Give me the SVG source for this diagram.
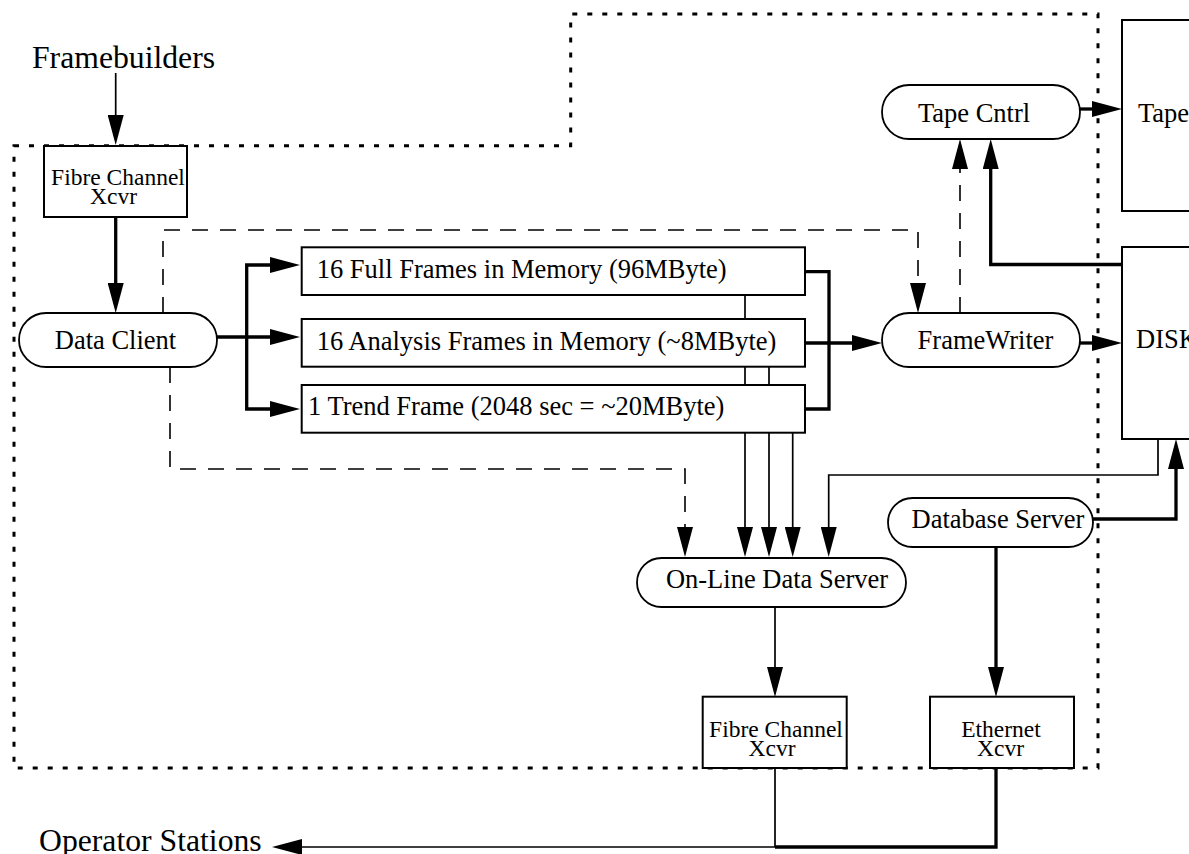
<svg xmlns="http://www.w3.org/2000/svg" width="1189" height="854" viewBox="0 0 1189 854">
  <style>
    text { font-family: "Liberation Serif", "Times New Roman", serif; fill: #000; }
    .lbl { font-size: 26.5px; }
    .big { font-size: 31.7px; }
    .sm { font-size: 23.5px; }
    .box { fill: #fff; stroke: #000; stroke-width: 2; }
    .pill { fill: #fff; stroke: #000; stroke-width: 1.8; }
    .thin { fill: none; stroke: #000; stroke-width: 1.7; }
    .thick { fill: none; stroke: #000; stroke-width: 3.3; }
    .dash { fill: none; stroke: #000; stroke-width: 1.6; stroke-dasharray: 16 12; }
    .zone { fill: none; stroke: #000; stroke-width: 3; stroke-dasharray: 5 10; }
  </style>
  <defs>
    <marker id="arrow" markerUnits="userSpaceOnUse" viewBox="0 0 30 16" markerWidth="30" markerHeight="16" refX="20" refY="8" orient="auto-start-reverse">
      <path d="M0,0 L30,8 L0,16 z" fill="#000"/>
    </marker>
  </defs>

  <rect width="1189" height="854" fill="#fff"/>

  <!-- system boundary -->
  <polygon class="zone" points="14,145.7 570.7,145.7 570.7,14 1098,14 1098,768 14,768"/>

  <!-- external labels -->
  <text id="framebuilders" class="big" x="32" y="68">Framebuilders</text>
  <text id="operator-stations" class="big" x="39" y="851">Operator Stations</text>

  <!-- storage devices -->
  <g id="tape">
    <rect class="box" x="1122" y="20" width="100" height="191"/>
    <text class="lbl" x="1138" y="122">Tape</text>
  </g>
  <g id="disk">
    <rect class="box" x="1122" y="247" width="100" height="192"/>
    <text class="lbl" x="1136" y="348">DISK</text>
  </g>

  <!-- transceivers -->
  <g id="fc-xcvr-in">
    <rect class="box" x="44" y="146" width="143" height="71"/>
    <text class="sm" x="118" y="185" text-anchor="middle">Fibre Channel</text>
    <text class="sm" x="113.5" y="204" text-anchor="middle">Xcvr</text>
  </g>
  <g id="fc-xcvr-out">
    <rect class="box" x="702.7" y="696.7" width="144" height="71.3"/>
    <text class="sm" x="776" y="737" text-anchor="middle">Fibre Channel</text>
    <text class="sm" x="772" y="756" text-anchor="middle">Xcvr</text>
  </g>
  <g id="eth-xcvr">
    <rect class="box" x="930" y="696.7" width="144" height="71.3"/>
    <text class="sm" x="1001" y="737" text-anchor="middle">Ethernet</text>
    <text class="sm" x="1000.5" y="756" text-anchor="middle">Xcvr</text>
  </g>

  <!-- processes -->
  <g id="data-client">
    <rect class="pill" x="19" y="313" width="198" height="54" rx="27"/>
    <text class="lbl" x="115.5" y="349" text-anchor="middle">Data Client</text>
  </g>
  <g id="tape-cntrl">
    <rect class="pill" x="882" y="85" width="198" height="54" rx="27"/>
    <text class="lbl" x="974" y="121.7" text-anchor="middle">Tape Cntrl</text>
  </g>
  <g id="frame-writer">
    <rect class="pill" x="882" y="313" width="198" height="54" rx="27"/>
    <text class="lbl" x="985.5" y="349" text-anchor="middle">FrameWriter</text>
  </g>
  <g id="database-server">
    <rect class="pill" x="888" y="498" width="205" height="49" rx="24.5"/>
    <text class="lbl" x="998" y="528" text-anchor="middle">Database Server</text>
  </g>
  <g id="online-data-server">
    <rect class="pill" x="637" y="558" width="269" height="49" rx="24.5"/>
    <text class="lbl" x="777" y="588" text-anchor="middle">On-Line Data Server</text>
  </g>

  <!-- memory buffers -->
  <g id="full-frames">
    <rect class="box" x="301.7" y="247.3" width="503.3" height="47.7"/>
    <text class="lbl" x="316.7" y="277.7">16 Full Frames in Memory (96MByte)</text>
  </g>
  <g id="analysis-frames">
    <rect class="box" x="301.7" y="319" width="503.3" height="47.7"/>
    <text class="lbl" x="316.7" y="350">16 Analysis Frames in Memory (~8MByte)</text>
  </g>
  <g id="trend-frame">
    <rect class="box" x="301.7" y="385" width="503.3" height="47.7"/>
    <text class="lbl" x="308" y="415">1 Trend Frame (2048 sec = ~20MByte)</text>
  </g>

  <!-- connectors -->
  <g id="connectors">
    <path class="thin" d="M115.7,73 V135" marker-end="url(#arrow)"/>
    <path class="thick" d="M115.7,217 V303" marker-end="url(#arrow)"/>

    <path class="thick" d="M217,337 H290" marker-end="url(#arrow)"/>
    <path class="thick" d="M290,265 H246.7 V409 H290" marker-start="url(#arrow)" marker-end="url(#arrow)"/>

    <path class="thick" d="M805,271.7 H829 V409 H805"/>
    <path class="thick" d="M805,343 H872" marker-end="url(#arrow)"/>

    <path class="thick" d="M1080,343 H1112" marker-end="url(#arrow)"/>
    <path class="thick" d="M1122,264.5 H990.7 V149" marker-end="url(#arrow)"/>
    <path class="dash" d="M960,313 V149" marker-end="url(#arrow)"/>
    <path class="thick" d="M1080,109 H1112" marker-end="url(#arrow)"/>

    <path class="dash" d="M163,313 V230 H918 V303" marker-end="url(#arrow)"/>
    <path class="dash" d="M170,367 V469 H685 V547" marker-end="url(#arrow)"/>

    <path class="thin" d="M745,295 V319 M745,367 V385 M769,367 V385"/>
    <path class="thin" d="M745,433 V547" marker-end="url(#arrow)"/>
    <path class="thin" d="M769,433 V547" marker-end="url(#arrow)"/>
    <path class="thin" d="M792.7,433 V547" marker-end="url(#arrow)"/>

    <path class="thin" d="M1158,439 V475 H828.7 V547" marker-end="url(#arrow)"/>
    <path class="thick" d="M1093,519 H1176 V449" marker-end="url(#arrow)"/>

    <path class="thin" d="M775,607 V687" marker-end="url(#arrow)"/>
    <path class="thick" d="M996,547 V687" marker-end="url(#arrow)"/>

    <path class="thin" d="M775,768 V847 H282" marker-end="url(#arrow)"/>
    <path class="thick" d="M996,768 V847 H775"/>
  </g>
</svg>
